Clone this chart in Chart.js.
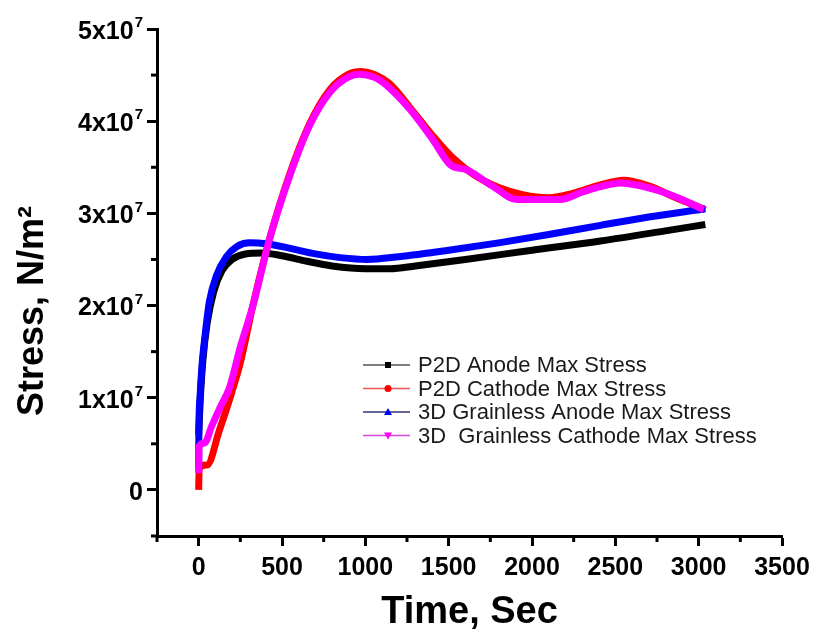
<!DOCTYPE html>
<html>
<head>
<meta charset="utf-8">
<script src="https://cdn.jsdelivr.net/npm/chart.js@4.4.1/dist/chart.umd.min.js"></script>
<style>
    html, body { margin: 0; padding: 0; background: #fff; }
    #wrap { width: 817px; height: 637px; position: relative; }
</style>
</head>
<body>
<div id="wrap"><canvas id="stressChart"></canvas></div>
<script>
// time (s) and max stress (N/m^2)
const p2dAnodeTime = [0, 10, 25, 50, 90, 140, 200, 280, 380, 500, 650, 800, 1000, 1150, 1300, 1600, 2000, 2410, 2800, 3040];
const p2dAnodeStress = [6.0e6, 1.0e7, 1.4e7, 1.8e7, 2.15e7, 2.38e7, 2.5e7, 2.56e7, 2.57e7, 2.54e7, 2.48e7, 2.43e7, 2.40e7, 2.40e7, 2.43e7, 2.5e7, 2.6e7, 2.7e7, 2.81e7, 2.88e7];

const p2dCathodeTime = [0, 3, 50, 125, 197, 250, 324, 425, 545, 665, 786, 900, 970, 1050, 1150, 1267, 1405, 1520, 1650, 1800, 1950, 2100, 2250, 2410, 2550, 2700, 2850, 3040];
const p2dCathodeStress = [0, 2.4e6, 2.7e6, 6.5e6, 1.05e7, 1.38e7, 1.99e7, 2.72e7, 3.42e7, 3.97e7, 4.34e7, 4.51e7, 4.54e7, 4.51e7, 4.40e7, 4.15e7, 3.84e7, 3.61e7, 3.42e7, 3.28e7, 3.2e7, 3.17e7, 3.22e7, 3.31e7, 3.36e7, 3.3e7, 3.18e7, 3.04e7];

const gl3dAnodeTime = [0, 1, 8, 20, 40, 65, 106, 166, 230, 306, 405, 550, 700, 850, 1010, 1200, 1500, 1800, 2100, 2410, 2700, 3040];
const gl3dAnodeStress = [2.2e6, 6.0e6, 1.0e7, 1.35e7, 1.7e7, 2.05e7, 2.32e7, 2.53e7, 2.64e7, 2.68e7, 2.67e7, 2.62e7, 2.56e7, 2.52e7, 2.50e7, 2.53e7, 2.6e7, 2.68e7, 2.77e7, 2.87e7, 2.96e7, 3.05e7];

const gl3dCathodeTime = [0, 2, 35, 80, 130, 185, 250, 324, 425, 545, 665, 786, 900, 966, 1050, 1107, 1267, 1405, 1508, 1610, 1760, 1910, 2170, 2300, 2410, 2530, 2650, 2770, 2900, 3030];
const gl3dCathodeStress = [1.8e6, 4.7e6, 5.1e6, 7.0e6, 9.0e6, 1.11e7, 1.55e7, 1.99e7, 2.72e7, 3.40e7, 3.95e7, 4.31e7, 4.48e7, 4.51e7, 4.48e7, 4.42e7, 4.13e7, 3.80e7, 3.53e7, 3.47e7, 3.30e7, 3.15e7, 3.15e7, 3.23e7, 3.29e7, 3.33e7, 3.30e7, 3.24e7, 3.15e7, 3.04e7];

const seriesNames = ['P2D Anode Max Stress', 'P2D Cathode Max Stress', '3D Grainless Anode Max Stress', '3D  Grainless Cathode Max Stress'];
const seriesColors = ['#000000', '#ff0000', '#0000ff', '#ff00ff'];
const legendLineColors = ['#555555', '#ee5555', '#33337a', '#dd44dd'];
const markerShapes = ['rect', 'circle', 'triangle', 'triangleDown'];

const xTicksMin = -250, xTicksMax = 3500;
const yTicksMin = -5e6, yTicksMax = 5e7;
const yLabelValues = [0, 1e7, 2e7, 3e7, 4e7, 5e7];

const FONT = "'Liberation Sans', Arial, sans-serif";

function toPoints(t, s) {
    return t.map((x, i) => ({ x: x, y: s[i] }));
}

const allSeries = [
    toPoints(p2dAnodeTime, p2dAnodeStress),
    toPoints(p2dCathodeTime, p2dCathodeStress),
    toPoints(gl3dAnodeTime, gl3dAnodeStress),
    toPoints(gl3dCathodeTime, gl3dCathodeStress)
];

const datasets = allSeries.map((pts, i) => ({
    label: seriesNames[i],
    data: pts,
    borderColor: seriesColors[i],
    backgroundColor: seriesColors[i],
    borderWidth: 7,
    pointRadius: 0,
    cubicInterpolationMode: 'monotone',
    borderJoinStyle: 'round',
    fill: false,
    order: 4 - i // magenta on top, black underneath
}));

// short minor ticks between the labelled ones
const minorTicks = {
    id: 'minorTicks',
    afterDraw(chart) {
        const ctx = chart.ctx;
        const xs = chart.scales.x, ys = chart.scales.y;
        ctx.save();
        ctx.strokeStyle = '#000';
        ctx.lineWidth = 3;
        for (let v = xTicksMin; v <= xTicksMax; v += 250) {
            if (v % 500 === 0) continue;
            const px = xs.getPixelForValue(v);
            ctx.beginPath();
            ctx.moveTo(px, chart.chartArea.bottom);
            ctx.lineTo(px, chart.chartArea.bottom + 6);
            ctx.stroke();
        }
        for (let v = yTicksMin; v <= yTicksMax; v += 5e6) {
            if (Math.round(v / 5e6) % 2 === 0) continue;
            const py = ys.getPixelForValue(v);
            ctx.beginPath();
            ctx.moveTo(chart.chartArea.left, py);
            ctx.lineTo(chart.chartArea.left - 6, py);
            ctx.stroke();
        }
        ctx.restore();
    }
};

// y labels with a real superscript exponent, and the rotated y title
const yLabels = {
    id: 'yLabels',
    afterDraw(chart) {
        const ctx = chart.ctx;
        const ys = chart.scales.y;
        const right = 143;
        ctx.save();
        ctx.fillStyle = '#000';
        yLabelValues.forEach(v => {
            const py = ys.getPixelForValue(v) + 3;
            ctx.textAlign = 'right';
            ctx.textBaseline = 'middle';
            if (v === 0) {
                ctx.font = 'bold 25px ' + FONT;
                ctx.fillText('0', right, py);
                return;
            }
            ctx.font = 'bold 15px ' + FONT;
            const supW = ctx.measureText('7').width;
            ctx.fillText('7', right, py - 9);
            ctx.font = 'bold 25px ' + FONT;
            ctx.fillText(Math.round(v / 1e7) + 'x10', right - supW - 1, py);
        });

        ctx.translate(43, 311);
        ctx.rotate(-Math.PI / 2);
        ctx.textAlign = 'center';
        ctx.textBaseline = 'alphabetic';
        ctx.font = 'bold 36px ' + FONT;
        ctx.fillText('Stress, N/m\u00B2', 0, 0);
        ctx.restore();
    }
};

// legend sits inside the plot like in the figure
const insideLegend = {
    id: 'insideLegend',
    afterDraw(chart) {
        const ctx = chart.ctx;
        const x0 = 363, y0 = 365, rowH = 23.5;
        ctx.save();
        ctx.font = '22px ' + FONT;
        ctx.textBaseline = 'middle';
        chart.data.datasets.forEach((ds, i) => {
            const y = y0 + i * rowH;
            ctx.strokeStyle = legendLineColors[i];
            ctx.lineWidth = 1.5;
            ctx.beginPath();
            ctx.moveTo(x0, y);
            ctx.lineTo(x0 + 47, y);
            ctx.stroke();
            const mx = x0 + 25;
            ctx.fillStyle = ds.borderColor;
            ctx.beginPath();
            if (markerShapes[i] === 'rect') {
                ctx.rect(mx - 3, y - 3, 6, 6);
            } else if (markerShapes[i] === 'circle') {
                ctx.arc(mx, y, 3.5, 0, Math.PI * 2);
            } else if (markerShapes[i] === 'triangle') {
                ctx.moveTo(mx, y - 4); ctx.lineTo(mx + 4, y + 3); ctx.lineTo(mx - 4, y + 3); ctx.closePath();
            } else {
                ctx.moveTo(mx, y + 4); ctx.lineTo(mx + 4, y - 3); ctx.lineTo(mx - 4, y - 3); ctx.closePath();
            }
            ctx.fill();
            ctx.fillStyle = '#1a1a1a';
            ctx.fillText(ds.label, x0 + 55, y + 1);
        });
        ctx.restore();
    }
};

const stressChart = new Chart(document.getElementById('stressChart'), {
    type: 'line',
    data: { datasets: datasets },
    options: {
        responsive: true,
        maintainAspectRatio: false,
        animation: false,
        layout: { padding: { top: 29, right: 35, left: 0, bottom: 0 } },
        plugins: {
            legend: { display: false },
            tooltip: { enabled: false }
        },
        scales: {
            x: {
                type: 'linear',
                min: xTicksMin,
                max: xTicksMax,
                border: { color: '#000', width: 3 },
                grid: {
                    drawOnChartArea: false,
                    drawTicks: true,
                    tickLength: 10,
                    tickWidth: 3,
                    tickColor: c => (c.tick && c.tick.value % 500 === 0) ? '#000' : 'rgba(0,0,0,0)'
                },
                ticks: {
                    stepSize: 250,
                    autoSkip: false,
                    maxRotation: 0,
                    padding: 7,
                    color: '#000',
                    font: { family: FONT, size: 25, weight: 'bold' },
                    callback: v => (v % 500 === 0 && v >= 0) ? String(v) : ''
                },
                title: {
                    display: true,
                    text: 'Time, Sec',
                    color: '#000',
                    font: { family: FONT, size: 38, weight: 'bold' },
                    padding: { top: 0, bottom: 2 }
                },
                afterFit: s => { s.height = 101; }
            },
            y: {
                type: 'linear',
                min: yTicksMin,
                max: yTicksMax,
                border: { color: '#000', width: 3 },
                grid: {
                    drawOnChartArea: false,
                    drawTicks: true,
                    tickLength: 10,
                    tickWidth: 3,
                    tickColor: c => (c.tick && Math.round(c.tick.value / 5e6) % 2 === 0) ? '#000' : 'rgba(0,0,0,0)'
                },
                ticks: {
                    stepSize: 5e6,
                    autoSkip: false,
                    callback: () => ''
                },
                afterFit: s => { s.width = 157; }
            }
        }
    },
    plugins: [minorTicks, yLabels, insideLegend]
});
</script>
</body>
</html>
